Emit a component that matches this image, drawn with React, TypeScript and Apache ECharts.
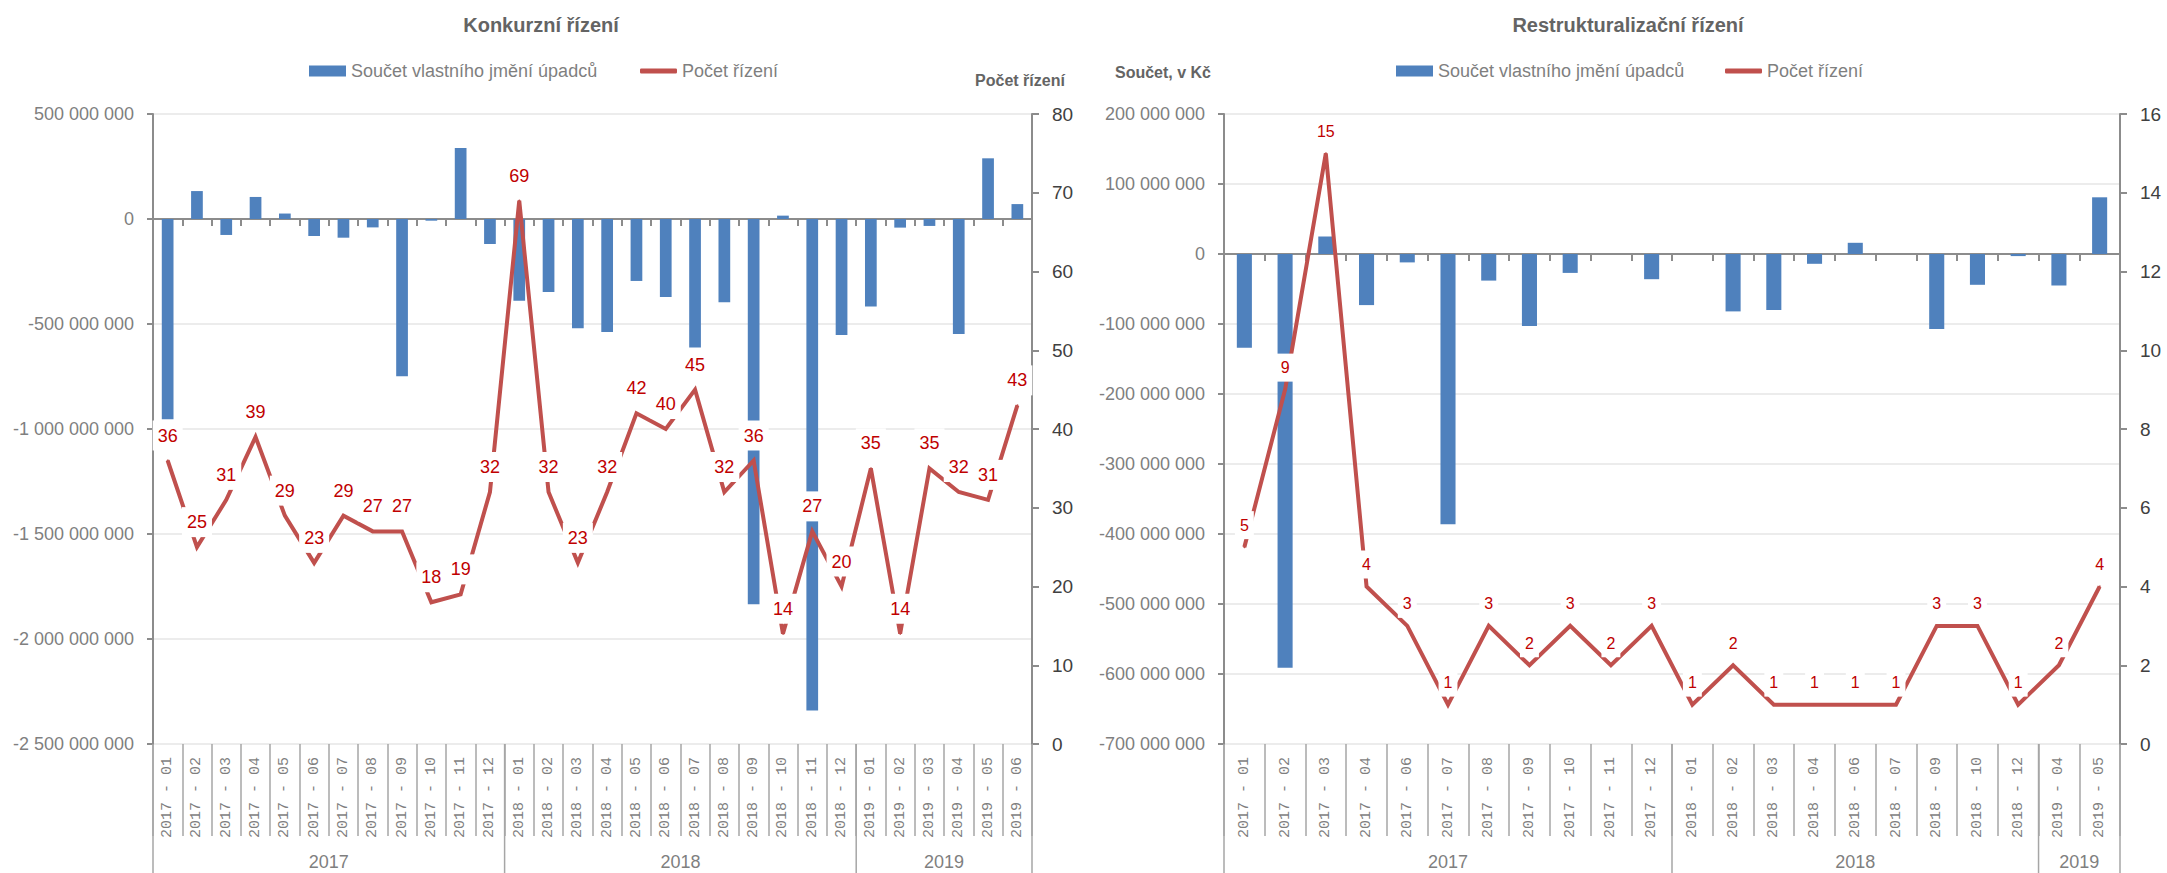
import React, { useEffect, useRef } from 'react';
import * as echarts from 'echarts';

// ---------- Data: Konkurzní řízení ----------
const konkCategories = [
  '2017 - 01', '2017 - 02', '2017 - 03', '2017 - 04', '2017 - 05', '2017 - 06',
  '2017 - 07', '2017 - 08', '2017 - 09', '2017 - 10', '2017 - 11', '2017 - 12',
  '2018 - 01', '2018 - 02', '2018 - 03', '2018 - 04', '2018 - 05', '2018 - 06',
  '2018 - 07', '2018 - 08', '2018 - 09', '2018 - 10', '2018 - 11', '2018 - 12',
  '2019 - 01', '2019 - 02', '2019 - 03', '2019 - 04', '2019 - 05', '2019 - 06',
];
const konkEquity = [
  -954e6, 133e6, -76e6, 105e6, 26e6, -81e6, -89e6, -40e6, -749e6, -8e6, 338e6, -119e6,
  -389e6, -348e6, -520e6, -538e6, -295e6, -371e6, -612e6, -397e6, -1835e6, 16e6, -2340e6, -552e6,
  -417e6, -41e6, -33e6, -548e6, 289e6, 71e6,
];
const konkCounts = [
  36, 25, 31, 39, 29, 23, 29, 27, 27, 18, 19, 32,
  69, 32, 23, 32, 42, 40, 45, 32, 36, 14, 27, 20,
  35, 14, 35, 32, 31, 43,
];

// ---------- Data: Restrukturalizační řízení ----------
const restCategories = [
  '2017 - 01', '2017 - 02', '2017 - 03', '2017 - 04', '2017 - 06', '2017 - 07',
  '2017 - 08', '2017 - 09', '2017 - 10', '2017 - 11', '2017 - 12',
  '2018 - 01', '2018 - 02', '2018 - 03', '2018 - 04', '2018 - 06', '2018 - 07',
  '2018 - 09', '2018 - 10', '2018 - 12',
  '2019 - 04', '2019 - 05',
];
const restEquity = [
  -134e6, -591e6, 25e6, -73e6, -12e6, -386e6, -38e6, -103e6, -27e6, 0, -36e6,
  0, -82e6, -80e6, -14e6, 16e6, 0, -107e6, -44e6, -3e6,
  -45e6, 81e6,
];
const restCounts = [
  5, 9, 15, 4, 3, 1, 3, 2, 3, 2, 3,
  1, 2, 1, 1, 1, 1, 3, 3, 1,
  2, 4,
];

const titles = ['Konkurzní řízení', 'Restrukturalizační řízení'];
const barName = 'Součet vlastního jmění úpadců';
const lineName = 'Počet řízení';
const leftAxisName = 'Součet, v Kč';
const rightAxisName = 'Počet řízení';

const FONT = '"Liberation Sans", Arial, sans-serif';
const MONO = '"Liberation Mono", "DejaVu Sans Mono", monospace';
const AXIS_GREY = '#8c8c8c';
const TEXT_GREY = '#7f7f7f';
const TITLE_GREY = '#646464';
const BAR_COLOR = '#4f81bd';
const LINE_COLOR = '#c0504d';
const LABEL_RED = '#c00000';

function fmtNum(v: number): string {
  const s = Math.abs(Math.round(v)).toString().replace(/\B(?=(\d{3})+(?!\d))/g, ' ');
  return (v < 0 ? '-' : '') + s;
}

function zeroXAxis(gridIndex: number, cats: string[], onZeroAxisIndex: number) {
  return {
    type: 'category',
    gridIndex,
    data: cats,
    position: 'bottom',
    axisLine: { show: true, onZero: true, onZeroAxisIndex, lineStyle: { color: AXIS_GREY, width: 2 } },
    axisTick: { show: true, length: 7, interval: 0, lineStyle: { color: AXIS_GREY, width: 2 } },
    axisLabel: { show: false },
    splitLine: { show: false },
  };
}

function labelXAxis(gridIndex: number, cats: string[]) {
  return {
    type: 'category',
    gridIndex,
    data: cats,
    position: 'bottom',
    axisLine: { show: false, onZero: false },
    axisTick: { show: true, length: 92, interval: 0, lineStyle: { color: '#a6a6a6', width: 1.5 } },
    axisLabel: {
      interval: 0,
      rotate: 90,
      margin: 13,
      color: TEXT_GREY,
      fontFamily: MONO,
      fontSize: 15,
    },
    splitLine: { show: false },
  };
}

function leftYAxis(gridIndex: number, min: number, max: number, interval: number) {
  return {
    type: 'value',
    gridIndex,
    position: 'left',
    min,
    max,
    interval,
    axisLine: { show: true, onZero: false, lineStyle: { color: AXIS_GREY, width: 2 } },
    axisTick: { show: true, length: 6, lineStyle: { color: AXIS_GREY, width: 2 } },
    axisLabel: { margin: 19, color: TEXT_GREY, fontSize: 18, fontFamily: FONT, formatter: fmtNum },
    splitLine: { show: true, lineStyle: { color: '#ececec', width: 2 } },
  };
}

function rightYAxis(gridIndex: number, min: number, max: number, interval: number) {
  return {
    type: 'value',
    gridIndex,
    position: 'right',
    min,
    max,
    interval,
    axisLine: { show: true, onZero: false, lineStyle: { color: AXIS_GREY, width: 2 } },
    axisTick: { show: true, length: 7, lineStyle: { color: AXIS_GREY, width: 2 } },
    axisLabel: { margin: 20, color: '#404040', fontSize: 19, fontFamily: FONT },
    splitLine: { show: false },
  };
}

function barSeries(xi: number, yi: number, data: number[], width: string) {
  return {
    type: 'bar',
    name: barName,
    xAxisIndex: xi,
    yAxisIndex: yi,
    data,
    barWidth: width,
    itemStyle: { color: BAR_COLOR },
  };
}

function lineSeries(xi: number, yi: number, data: number[], fontSize: number, distance: number, padding: number[]) {
  return {
    type: 'line',
    name: lineName,
    xAxisIndex: xi,
    yAxisIndex: yi,
    data,
    symbol: 'circle',
    symbolSize: 2,
    z: 3,
    lineStyle: { color: LINE_COLOR, width: 4, join: 'miter' },
    itemStyle: { color: LINE_COLOR },
    label: {
      show: true,
      position: 'top',
      distance,
      color: LABEL_RED,
      fontSize,
      fontFamily: FONT,
      backgroundColor: '#ffffff',
      padding,
    },
  };
}

function legendFor(left: number, name: string, color: string, icon: string, itemHeight: number) {
  return {
    left,
    top: 62,
    padding: 0,
    orient: 'horizontal',
    selectedMode: false,
    itemWidth: 37,
    itemHeight,
    icon,
    data: [{ name, icon, itemStyle: { color, borderWidth: 0 } }],
    textStyle: { color: TEXT_GREY, fontSize: 18, fontFamily: FONT, padding: [0, 0, 0, 0] },
  };
}

export default function App() {
  const ref = useRef<HTMLDivElement>(null);

  useEffect(() => {
    const el = ref.current;
    if (!el) return;
    const chart = echarts.init(el, undefined, { renderer: 'svg' });

    const option: any = {
      animation: false,
      backgroundColor: '#ffffff',
      grid: [
        { left: 153, right: 1135, top: 114, bottom: 129 },
        { left: 1224, right: 47, top: 114, bottom: 129 },
      ],
      xAxis: [
        zeroXAxis(0, konkCategories, 0),
        labelXAxis(0, konkCategories),
        zeroXAxis(1, restCategories, 2),
        labelXAxis(1, restCategories),
      ],
      yAxis: [
        leftYAxis(0, -2500000000, 500000000, 500000000),
        rightYAxis(0, 0, 80, 10),
        leftYAxis(1, -700000000, 200000000, 100000000),
        rightYAxis(1, 0, 16, 2),
      ],
      legend: [
        legendFor(309, barName, BAR_COLOR, 'rect', 11),
        legendFor(640, lineName, LINE_COLOR, 'roundRect', 5),
        legendFor(1396, barName, BAR_COLOR, 'rect', 11),
        legendFor(1725, lineName, LINE_COLOR, 'roundRect', 5),
      ],
      series: [
        barSeries(1, 0, konkEquity, '40%'),
        lineSeries(1, 1, konkCounts, 18, 9, [6, 5]),
        barSeries(3, 2, restEquity, '37%'),
        lineSeries(3, 3, restCounts, 16, 7, [6, 5]),
      ],
    };
    chart.setOption(option);

    const H = el.clientHeight || 873;
    const graphics: any[] = [];

    const yearParts = (xAxisIndex: number, yAxisIndex: number, cats: string[], yMin: number) => {
      const p0 = chart.convertToPixel({ xAxisIndex }, cats[0]) as number;
      const p1 = chart.convertToPixel({ xAxisIndex }, cats[1]) as number;
      const band = p1 - p0;
      const start = p0 - band / 2;
      const yTop = chart.convertToPixel({ yAxisIndex }, yMin) as number;
      const groups: { year: string; s: number; e: number }[] = [];
      cats.forEach((c, i) => {
        const y = c.slice(0, 4);
        const g = groups[groups.length - 1];
        if (!g || g.year !== y) groups.push({ year: y, s: i, e: i });
        else g.e = i;
      });
      const bounds = groups.map((g) => g.s).concat([cats.length]);
      bounds.forEach((b) => {
        const x = start + b * band;
        graphics.push({
          type: 'line',
          silent: true,
          shape: { x1: x, y1: yTop, x2: x, y2: H },
          style: { stroke: '#a6a6a6', lineWidth: 1.5 },
        });
      });
      groups.forEach((g) => {
        const cx = start + ((g.s + g.e + 1) / 2) * band;
        graphics.push({
          type: 'text',
          silent: true,
          x: cx,
          y: 862,
          style: {
            text: g.year,
            fill: TEXT_GREY,
            font: `18px ${FONT}`,
            align: 'center',
            verticalAlign: 'middle',
          },
        });
      });
    };

    yearParts(1, 0, konkCategories, -2500000000);
    yearParts(3, 2, restCategories, -700000000);

    const textEl = (text: string, x: number, y: number, size: number) => ({
      type: 'text',
      silent: true,
      x,
      y,
      style: {
        text,
        fill: TITLE_GREY,
        font: `bold ${size}px ${FONT}`,
        align: 'center',
        verticalAlign: 'middle',
      },
    });
    graphics.push(textEl(titles[0], 541, 25, 20));
    graphics.push(textEl(titles[1], 1628, 25, 20));
    graphics.push(textEl(rightAxisName, 1020, 80, 16));
    graphics.push(textEl(leftAxisName, 1163, 72, 16));

    chart.setOption({ graphic: graphics });

    return () => {
      chart.dispose();
    };
  }, []);

  return (
    <div
      ref={ref}
      style={{ position: 'absolute', left: 0, top: 0, width: 2167, height: 873 }}
    />
  );
}
